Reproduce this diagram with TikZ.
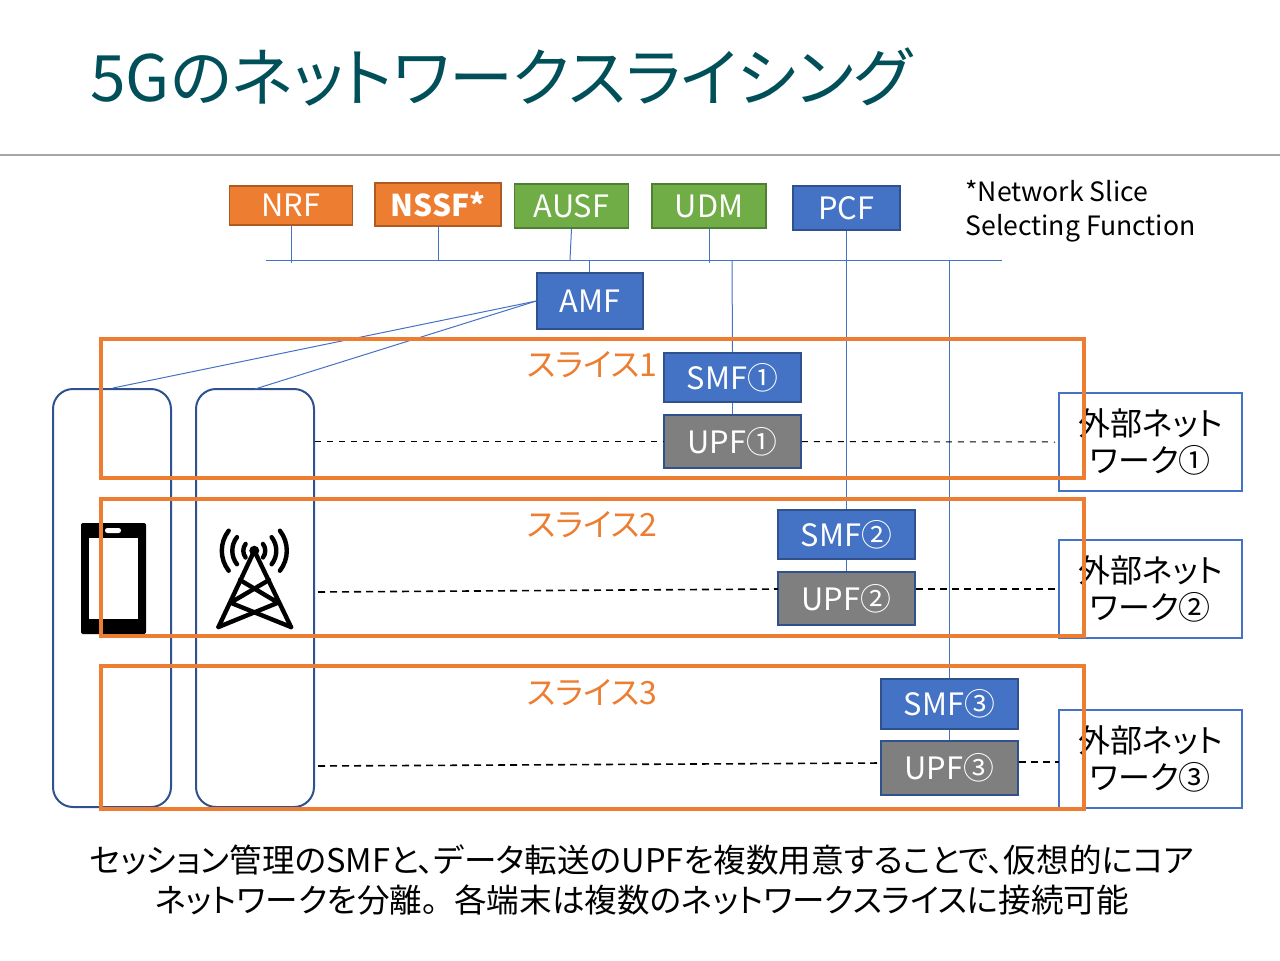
\documentclass[tikz,border=0pt]{standalone}
\usepackage{fontspec}
\setmainfont[RawFeature=+palt]{Noto Sans CJK JP}
\usetikzlibrary{arrows.meta}
\definecolor{titleteal}{HTML}{004F59}
\definecolor{nfblue}{HTML}{4472C4}
\definecolor{nfblueline}{HTML}{2F528F}
\definecolor{nforange}{HTML}{ED7D31}
\definecolor{nforangeline}{HTML}{AE5A21}
\definecolor{nfgreen}{HTML}{70AD47}
\definecolor{nfgreenline}{HTML}{507E32}
\definecolor{nfgray}{HTML}{7F7F7F}
\begin{document}
\begin{tikzpicture}[
                        x=0.5pt, y=-0.5pt,
                        nfbox/.style={rectangle, draw, line width=0.75pt, text=white, inner sep=0pt, font=\fontsize{15.4}{16}\selectfont},
                        bluebox/.style={nfbox, fill=nfblue, draw=nfblueline},
                        orangebox/.style={nfbox, fill=nforange, draw=nforangeline},
                        greenbox/.style={nfbox, fill=nfgreen, draw=nfgreenline},
                        graybox/.style={nfbox, fill=nfgray, draw=nfblueline},
                        extbox/.style={rectangle, draw=nfblue, line width=0.85pt, fill=white, minimum width=91.5pt, minimum height=49pt, inner sep=0pt, align=center, font=\fontsize{16}{18.2}\selectfont},
                        slicebox/.style={rectangle, draw=nforange, line width=2pt, minimum width=491.5pt, inner sep=0pt},
                        slicelabel/.style={anchor=west, inner sep=0pt, text=nforange, font=\fontsize{16}{16}\selectfont},
                        devbox/.style={rectangle, draw=nfblueline, line width=1pt, rounded corners=10pt, minimum width=59pt, minimum height=209pt, inner sep=0pt},
                        busline/.style={draw=nfblue, line width=0.5pt},
                        userline/.style={draw=black, dashed, line width=0.5pt},
                        trunkline/.style={draw=black, line width=0.8pt, dash pattern=on 3.5pt off 2.5pt},
                        towerline/.style={draw=black, line width=2.2pt, line cap=round, line join=round}
                    ]
                    \useasboundingbox (0,0) rectangle (1280,960);
                    % Title
                    \node [anchor=west, inner sep=0pt, text=titleteal, font=\fontsize{32}{34}\selectfont] (title) at (90,77) {5Gのネットワークスライシング};
                    \coordinate (ruleL) at (0,155);
                    \coordinate (ruleR) at (1280,155);
                    \draw [draw=black!35, line width=0.6pt] (ruleL) -- (ruleR);

                    % Blocks
                    \node [orangebox, minimum width=61.5pt, minimum height=19.5pt] (NRF) at (291,205.5) {NRF};
                    \node [orangebox, minimum width=63pt, minimum height=21.5pt, font=\fontsize{15}{16}\selectfont\bfseries] (NSSF) at (438,204.5) {NSSF*};
                    \node [greenbox, minimum width=57pt, minimum height=22pt] (AUSF) at (571.5,206) {AUSF};
                    \node [greenbox, minimum width=57pt, minimum height=22pt] (UDM) at (709,206) {UDM};
                    \node [bluebox, minimum width=53.5pt, minimum height=22pt] (PCF) at (846.5,208) {PCF};
                    \node [bluebox, minimum width=53pt, minimum height=28pt] (AMF) at (590,301) {AMF};
                    \node [anchor=north west, inner sep=0pt, align=left, font=\fontsize{13.3}{17}\selectfont] (note) at (965,180) {*Network Slice\\Selecting Function};

                    \coordinate (busL) at (266,260.5);
                    \coordinate (busR) at (1002,260.5);

                    \node [devbox] (UE) at (112,598) {};
                    \node [devbox] (gNB) at (255,598) {};

                    \node [bluebox, minimum width=68.5pt, minimum height=24.5pt] (SMF1) at (732.5,377.5) {SMF①};
                    \node [graybox, minimum width=68.5pt, minimum height=26.5pt] (UPF1) at (732.5,441.5) {UPF①};
                    \node [bluebox, minimum width=68.5pt, minimum height=24.5pt] (SMF2) at (846.5,534.5) {SMF②};
                    \node [graybox, minimum width=68.5pt, minimum height=26.5pt] (UPF2) at (846.5,598.5) {UPF②};
                    \node [bluebox, minimum width=68.5pt, minimum height=25pt] (SMF3) at (949.5,704) {SMF③};
                    \node [graybox, minimum width=68.5pt, minimum height=27pt] (UPF3) at (949.5,768) {UPF③};

                    % Connections
                    \draw [busline] (busL) -- (busR);
                    \draw [busline] (NRF.south) -- (291,263);
                    \draw [busline] (NSSF.south) -- (438,260);
                    \draw [busline] (AUSF.south) -- (570,260);
                    \draw [busline] (UDM.south) -- (709,263);
                    \draw [busline] (AMF.north -| 589,0) -- (589,260);
                    \draw [busline] (AMF.west) -- (113,388);
                    \draw [busline] (AMF.west) -- (255,389);
                    \draw [busline] (732,260) -- (SMF1.north);
                    \draw [busline] (SMF1.south) -- (UPF1.north);
                    \draw [busline] (PCF.south) -- (SMF2.north);
                    \draw [busline] (SMF2.south) -- (UPF2.north);
                    \draw [busline] (949.5,260) -- (SMF3.north);
                    \draw [busline] (SMF3.south) -- (UPF3.north);

                    % External networks
                    \node [extbox] (DN1) at (1150.5,442) {外部ネット\\ワーク①};
                    \node [extbox] (DN2) at (1150.5,589) {外部ネット\\ワーク②};
                    \node [extbox] (DN3) at (1150.5,759) {外部ネット\\ワーク③};

                    \coordinate (DN3in) at (1059,762);
                    \draw [userline] (gNB.east |- UPF1.west) -- (UPF1.west);
                    \draw [userline] (UPF1.east) -- ([xshift=-1.5pt]DN1.west);
                    \draw [trunkline] (318,592) -- (778,589);
                    \draw [trunkline] (UPF2.east |- DN2.west) -- (DN2.west);
                    \draw [trunkline] (318,766) -- (881,763);
                    \draw [trunkline] (UPF3.east |- DN3in) -- (DN3in);

                    % Device icons
                    \fill [black, rounded corners=1pt] (81,523) rectangle (146,634);
                    \fill [white] (89,538) rectangle (138,619);
                    \fill [white, rounded corners=1.2pt] (105,528) rectangle (121,533);

                    \coordinate (mast) at (254.3,550.7);
                    \fill [black] (mast) circle (5);
                    \foreach \r in {11,22,32.5}{
                        \draw [towerline] (mast)+(-38:\r) arc[start angle=-38, end angle=38, radius=\r];
                        \draw [towerline] (mast)+(142:\r) arc[start angle=142, end angle=218, radius=\r];
                    }
                    \draw [towerline] (218.5,627) -- (mast) -- (291,627);
                    \draw [towerline] (218.5,627) -- (278,602.7) -- (240,580);
                    \draw [towerline] (291,627) -- (230.5,602.7) -- (269,580);

                    % Slices
                    \node [slicebox, minimum height=69.5pt] (slice1) at (592.5,408.5) {};
                    \node [slicebox, minimum height=68.5pt] (slice2) at (592.5,567.5) {};
                    \node [slicebox, minimum height=71.5pt] (slice3) at (592.5,737.5) {};
                    \node [slicelabel] (label1) at (527,364.5) {スライス1};
                    \node [slicelabel] (label2) at (527,524.5) {スライス2};
                    \node [slicelabel] (label3) at (527,692.5) {スライス3};

                    % Caption
                    \node [align=center, inner sep=0pt, font=\fontsize{16.3}{20}\selectfont] (caption) at (642,880) {セッション管理のSMFと、データ転送のUPFを複数用意することで、仮想的にコア\\ネットワークを分離。\hspace{0.25em} 各端末は複数のネットワークスライスに接続可能};
                \end{tikzpicture}
\end{document}
